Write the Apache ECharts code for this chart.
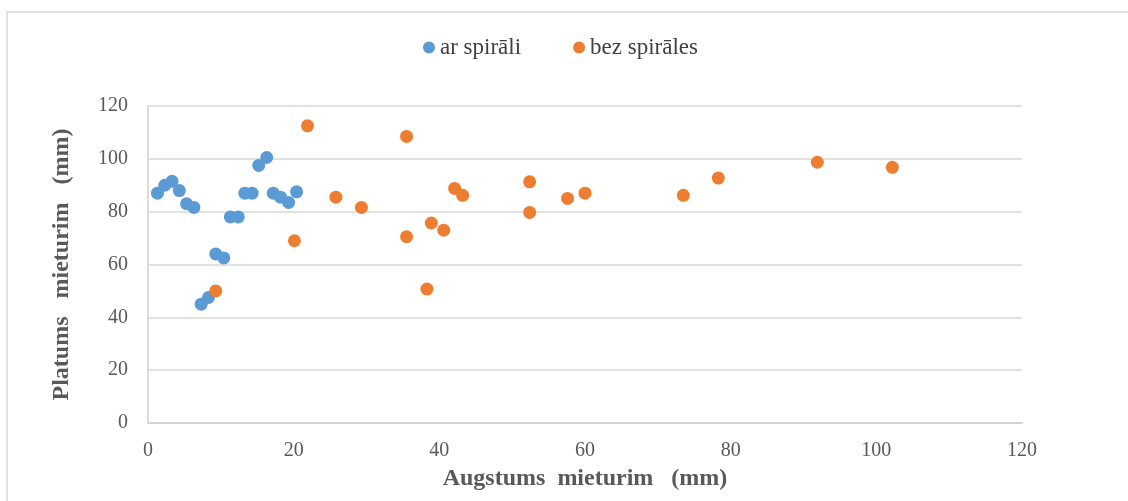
<!DOCTYPE html>
<html lang="lv">
<head>
    <meta charset="UTF-8">
    <title>Platums / Augstums mieturim</title>
    <script src="https://cdn.jsdelivr.net/npm/echarts@6/dist/echarts.min.js"></script>
    <style>
        html, body {
            margin: 0;
            padding: 0;
            background: #fff;
        }
        #wrap {
            position: relative;
            width: 1128px;
            height: 501px;
        }
        /* light frame like the source picture */
        #frame {
            position: absolute;
            left: 6px;
            top: 11px;
            right: 0;
            bottom: 0;
            border-left: 2px solid #e0e0e0;
            border-top: 2px solid #e0e0e0;
        }
        #chart {
            position: absolute;
            left: 0;
            top: 0;
            width: 1128px;
            height: 501px;
        }
    </style>
</head>
<body>
    <div id="wrap">
        <div id="frame"></div>
        <div id="chart"></div>
    </div>

    <script>
        // Dati
        const arSpirali = [
            [1.3, 87], [2.3, 90], [3.3, 91.5], [4.3, 88], [5.3, 83], [6.3, 81.6],
            [7.3, 45], [8.3, 47.5], [9.3, 64], [10.4, 62.5], [11.3, 78], [12.4, 78],
            [13.3, 87], [14.3, 87], [15.2, 97.5], [16.3, 100.5], [17.2, 87], [18.2, 85.5],
            [19.3, 83.5], [20.4, 87.5]
        ];
        const bezSpirales = [
            [9.3, 50], [20.1, 69], [21.9, 112.5], [25.8, 85.5], [29.3, 81.6],
            [35.5, 108.5], [35.5, 70.5], [38.3, 50.7], [38.9, 75.7], [40.6, 73],
            [42.1, 88.8], [43.2, 86.2], [52.4, 91.3], [52.4, 79.7], [57.6, 85],
            [60, 87], [73.5, 86.2], [78.3, 92.7], [91.9, 98.7], [102.2, 96.8]
        ];
        const seriesNames = ['ar spirāli', 'bez spirāles'];
        const xTitle = 'Augstums  mieturim   (mm)';
        const yTitle = 'Platums   mieturim   (mm)';

        const font = "'Liberation Serif', 'Times New Roman', serif";
        const chart = echarts.init(document.getElementById('chart'));

        chart.setOption({
            animation: false,
            textStyle: { fontFamily: font },
            color: ['#5B9BD5', '#ED7D31'],
            legend: {
                top: 31,
                left: 418,
                itemWidth: 12,
                itemHeight: 12,
                itemGap: 52,
                icon: 'circle',
                textStyle: { fontFamily: font, fontSize: 23, color: '#404040' },
                data: seriesNames
            },
            grid: {
                left: 148,
                right: 106,
                top: 106,
                bottom: 78
            },
            xAxis: {
                type: 'value',
                min: 0,
                max: 120,
                interval: 20,
                name: xTitle,
                nameLocation: 'middle',
                nameGap: 44,
                nameTextStyle: { fontFamily: font, fontSize: 24, fontWeight: 'bold', color: '#595959' },
                axisLine: { show: true, lineStyle: { color: '#d0d0d0', width: 1.5 } },
                axisTick: { show: false },
                axisLabel: { fontFamily: font, fontSize: 20, color: '#595959', margin: 18 },
                splitLine: { show: false }
            },
            yAxis: {
                type: 'value',
                min: 0,
                max: 120,
                interval: 20,
                name: yTitle,
                nameLocation: 'middle',
                nameGap: 74,
                nameTextStyle: { fontFamily: font, fontSize: 24, fontWeight: 'bold', color: '#595959' },
                axisLine: { show: true, lineStyle: { color: '#d0d0d0', width: 1.5 } },
                axisTick: { show: false },
                axisLabel: { fontFamily: font, fontSize: 20, color: '#595959', margin: 20 },
                splitLine: { show: true, lineStyle: { color: '#d9d9d9', width: 1.5 } }
            },
            series: [
                {
                    name: seriesNames[0],
                    type: 'scatter',
                    symbolSize: 13,
                    itemStyle: { opacity: 1 },
                    data: arSpirali
                },
                {
                    name: seriesNames[1],
                    type: 'scatter',
                    symbolSize: 13,
                    itemStyle: { opacity: 1 },
                    data: bezSpirales
                }
            ]
        });
    </script>
</body>
</html>
